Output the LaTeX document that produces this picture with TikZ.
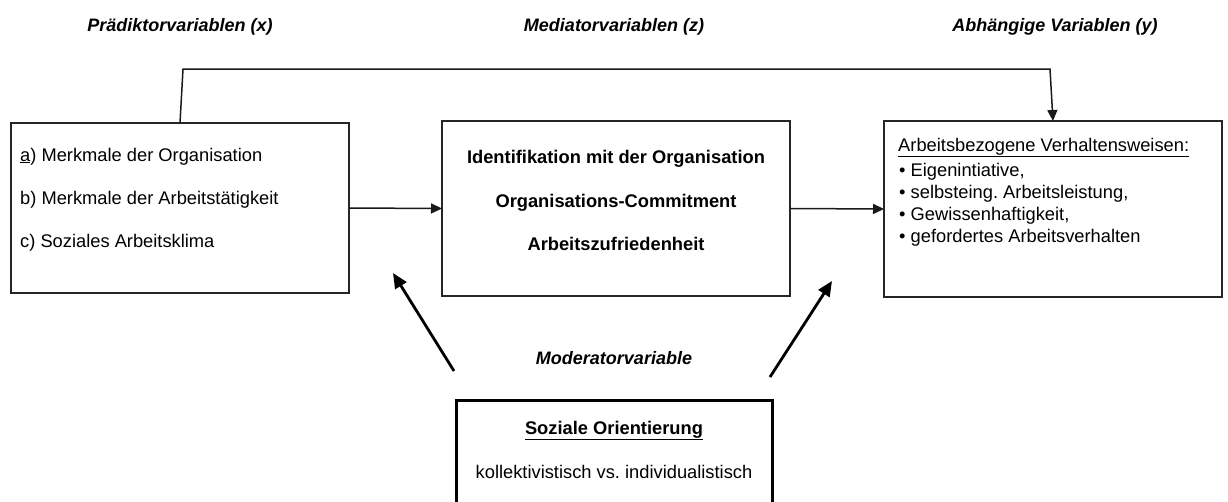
\documentclass[tikz,border=0pt]{standalone}
\usepackage{fontspec}
\setmainfont{Liberation Sans}
\usetikzlibrary{arrows.meta}
\frenchspacing
\begin{document}
\begin{tikzpicture}[x=1pt,y=-1pt,
  box/.style={draw=black!85, line width=1.5pt, inner sep=0pt, outer sep=0pt},
  txt/.style={inner sep=0pt, font=\fontsize{18.3}{22}\selectfont},
  head/.style={inner sep=0pt, font=\fontsize{18}{22}\selectfont\bfseries\itshape},
  conn/.style={draw=black!90, line width=1.5pt},
  tip/.style={-{Triangle[length=11pt,width=10pt]}},
  modarrow/.style={draw=black, line width=2.8pt, -{Triangle[length=15pt,width=13pt]}}]
\useasboundingbox (0,0) rectangle (1228,501);
\clip (0,0) rectangle (1228,501);

% column headings
\node[head, anchor=base] (hx) at (180,31) {Prädiktorvariablen (x)};
\node[head, anchor=base] (hz) at (614,31) {Mediatorvariablen (z)};
\node[head, anchor=base] (hy) at (1055,31) {Abhängige Variablen (y)};
\node[head, anchor=base] (hm) at (614,364) {Moderatorvariable};

% boxes
\node[box, minimum width=338pt, minimum height=170pt] (L) at (180,208) {};
\node[box, minimum width=348pt, minimum height=175pt] (M) at (616,208.5) {};
\node[box, minimum width=338pt, minimum height=176pt] (R) at (1053,209) {};
\node[box, line width=3pt, draw=black, minimum width=316pt, minimum height=112pt] (B) at (614,456) {};

% predictors
\node[txt, anchor=base west] (l1) at (20,161) {\underline{a}) Merkmale der Organisation};
\node[txt, anchor=base west] (l2) at (20,204) {b) Merkmale der Arbeitstätigkeit};
\node[txt, anchor=base west] (l3) at (20,247) {c) Soziales Arbeitsklima};

% mediators
\node[txt, anchor=base, font=\fontsize{18.3}{22}\selectfont\bfseries] (m1) at (616,163) {Identifikation mit der Organisation};
\node[txt, anchor=base, font=\fontsize{18.3}{22}\selectfont\bfseries] (m2) at (616,207) {Organisations-Commitment};
\node[txt, anchor=base, font=\fontsize{18.3}{22}\selectfont\bfseries] (m3) at (616,250) {Arbeitszufriedenheit};

% dependent variables
\node[txt, anchor=base west] (r0) at (898,151) {\underline{Arbeitsbezogene Verhaltensweisen:}};
\node[txt, anchor=base west] (r1) at (899,176) {\textbullet\ Eigenintiative,};
\node[txt, anchor=base west] (r2) at (899,198) {\textbullet\ selbsteing. Arbeitsleistung,};
\node[txt, anchor=base west] (r3) at (899,220) {\textbullet\ Gewissenhaftigkeit,};
\node[txt, anchor=base west] (r4) at (899,242) {\textbullet\ gefordertes Arbeitsverhalten};

% moderator
\node[txt, anchor=base, font=\fontsize{18.3}{22}\selectfont\bfseries] (b1) at (614,434) {\underline{Soziale Orientierung}};
\node[txt, anchor=base] (b2) at (614,478) {kollektivistisch vs. individualistisch};

% connectors
\draw[conn, tip] (L.north) -- (183,69) -- (1050,69) -- (R.north);
\draw[conn, tip] (L.east) -- (M.west);
\draw[conn, tip] (M.east) -- (R.west);

\coordinate (ls) at (454,371);
\coordinate (le) at (393,273);
\coordinate (rs) at (770,377);
\coordinate (re) at (832,281);
\draw[modarrow] (ls) -- (le);
\draw[modarrow] (rs) -- (re);
\end{tikzpicture}
\end{document}
